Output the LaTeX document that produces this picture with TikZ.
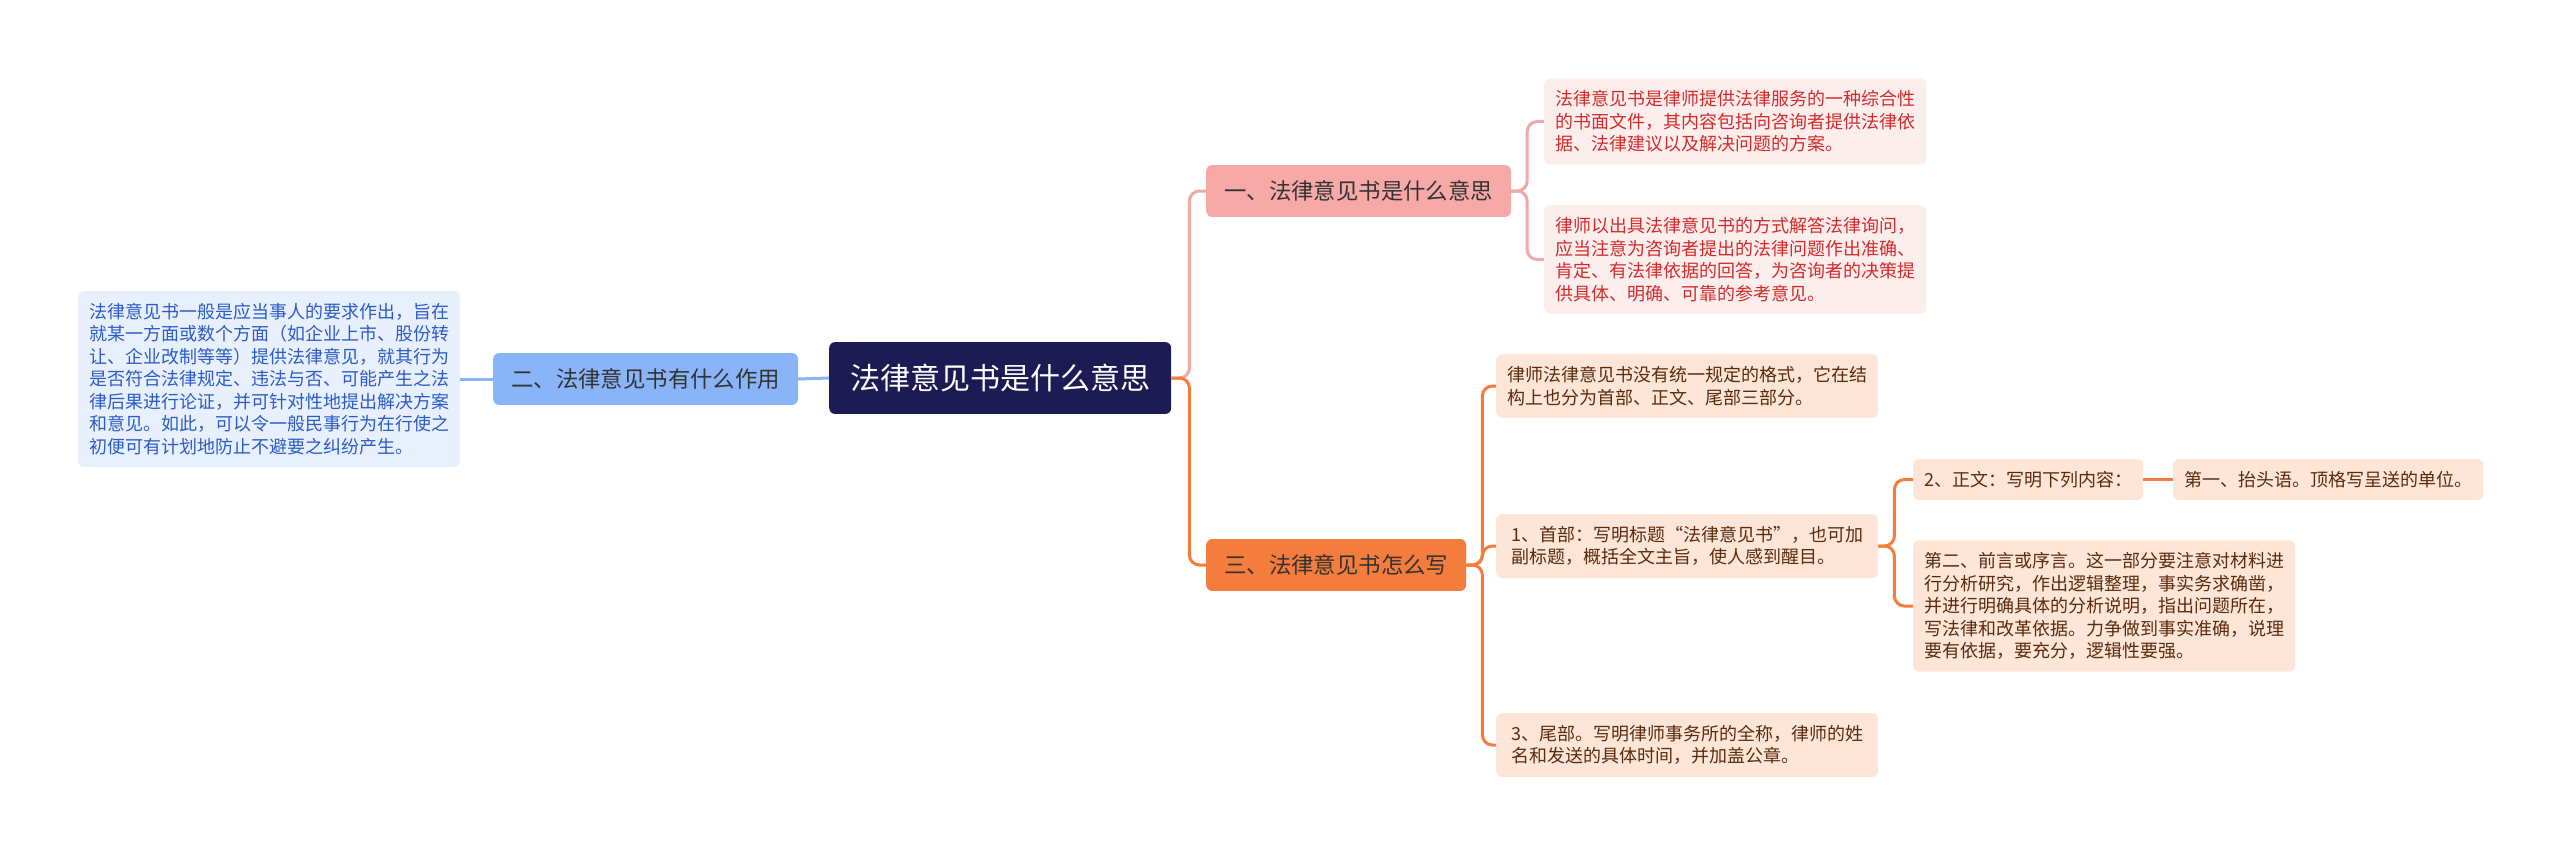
\documentclass[tikz,border=0pt]{standalone}
\usepackage{fontspec}
\newfontfamily\cjk{Noto Sans CJK SC}
\definecolor{rootc}{HTML}{1D1B54}
\definecolor{blueF}{HTML}{8AB4F8}
\definecolor{blueL}{HTML}{E8F0FD}
\definecolor{blueT}{HTML}{2B5CC8}
\definecolor{pinkF}{HTML}{F7A9A8}
\definecolor{pinkL}{HTML}{FDEEEE}
\definecolor{pinkT}{HTML}{D42B2B}
\definecolor{pinkLn}{HTML}{F2A8A8}
\definecolor{orF}{HTML}{F47C3C}
\definecolor{orL}{HTML}{FDE5D8}
\definecolor{orT}{HTML}{5A2C0E}
\definecolor{brT}{HTML}{333333}
\tikzset{
  rootst/.style={rounded corners=6pt, fill=rootc, text=white, inner xsep=21pt, inner ysep=22pt,
    font=\cjk\fontsize{30}{36}\selectfont, anchor=west},
  brst/.style={rounded corners=6pt, text=brT, inner xsep=18pt, inner ysep=15.5pt,
    font=\cjk\fontsize{22.4}{27}\selectfont, anchor=west},
  leafst/.style={rounded corners=6pt, inner xsep=11pt, inner ysep=12pt, align=left,
    font=\cjk\fontsize{18}{22.5}\selectfont, anchor=west},
  leafB/.style={leafst, fill=blueL, text=blueT},
  leafR/.style={leafst, fill=pinkL, text=pinkT},
  leafO/.style={leafst, fill=orL, text=orT},
  conn/.style={line width=3pt, rounded corners=10pt},
  lineB/.style={conn, draw=blueF},
  lineP/.style={conn, draw=pinkLn},
  lineO/.style={conn, draw=orF},
}
\begin{document}
\begin{tikzpicture}[x=1pt,y=-1pt]
\useasboundingbox (0,0) rectangle (2560,856);
\fill[white] (0,0) rectangle (2560,856);

\node[rootst] (root) at (829,378) {法律意见书是什么意思};
\node[brst, fill=blueF] (b2) at (493,379) {二、法律意见书有什么作用};
\node[leafB] (L) at (78,379) {法律意见书一般是应当事人的要求作出，旨在\\就某一方面或数个方面（如企业上市、股份转\\让、企业改制等等）提供法律意见，就其行为\\是否符合法律规定、违法与否、可能产生之法\\律后果进行论证，并可针对性地提出解决方案\\和意见。如此，可以令一般民事行为在行使之\\初便可有计划地防止不避要之纠纷产生。};

\node[brst, fill=pinkF] (b1) at (1206,191) {一、法律意见书是什么意思};
\node[leafR] (b1c1) at (1544,121.5) {法律意见书是律师提供法律服务的一种综合性\\的书面文件，其内容包括向咨询者提供法律依\\据、法律建议以及解决问题的方案。};
\node[leafR] (b1c2) at (1544,259.5) {律师以出具法律意见书的方式解答法律询问，\\应当注意为咨询者提出的法律问题作出准确、\\肯定、有法律依据的回答，为咨询者的决策提\\供具体、明确、可靠的参考意见。};

\node[brst, fill=orF] (b3) at (1206,565) {三、法律意见书怎么写};
\node[leafO] (b3c1) at (1496,386) {律师法律意见书没有统一规定的格式，它在结\\构上也分为首部、正文、尾部三部分。};
\node[leafO, minimum width=382pt] (b3c2) at (1496,546) {1、首部：写明标题“法律意见书”，也可加\\副标题，概括全文主旨，使人感到醒目。};
\node[leafO, minimum width=382pt] (b3c3) at (1496,745) {3、尾部。写明律师事务所的全称，律师的姓\\名和发送的具体时间，并加盖公章。};
\node[leafO] (zw) at (1913,479.5) {2、正文：写明下列内容：};
\node[leafO] (d1) at (2173,479.5) {第一、抬头语。顶格写呈送的单位。};
\node[leafO] (d2) at (1913,606) {第二、前言或序言。这一部分要注意对材料进\\行分析研究，作出逻辑整理，事实务求确凿，\\并进行明确具体的分析说明，指出问题所在，\\写法律和改革依据。力争做到事实准确，说理\\要有依据，要充分，逻辑性要强。};

\draw[lineB] (root.west) -- (b2.east);
\draw[lineB] (b2.west) -- (L.east);
\draw[lineP] (root.east) -- ([xshift=18pt]root.east) |- (b1.west);
\draw[lineO] (root.east) -- ([xshift=18pt]root.east) |- (b3.west);
\draw[lineP] (b1.east) -- ([xshift=16pt]b1.east) |- (b1c1.west);
\draw[lineP] (b1.east) -- ([xshift=16pt]b1.east) |- (b1c2.west);
\draw[lineO] (b3.east) -- ([xshift=16pt]b3.east) |- (b3c1.west);
\draw[lineO] (b3.east) -- ([xshift=16pt]b3.east) |- (b3c2.west);
\draw[lineO] (b3.east) -- ([xshift=16pt]b3.east) |- (b3c3.west);
\draw[lineO] (b3c2.east) -- ([xshift=16pt]b3c2.east) |- (zw.west);
\draw[lineO] (b3c2.east) -- ([xshift=16pt]b3c2.east) |- (d2.west);
\draw[lineO] (zw.east) -- (d1.west);
\end{tikzpicture}
\end{document}
